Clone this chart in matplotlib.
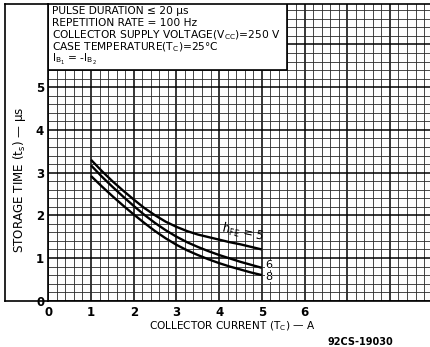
import matplotlib
matplotlib.use("Agg")
import matplotlib.pyplot as plt
from matplotlib.lines import Line2D
from matplotlib.patches import Rectangle
import numpy as np

# ---- data ----
collector_current = [1.0, 1.25, 1.5, 1.75, 2.0, 2.25, 2.5, 2.75, 3.0,
                     3.25, 3.5, 3.75, 4.0, 4.25, 4.5, 4.75, 5.0]
ts_hfe5 = [3.30, 3.04, 2.80, 2.58, 2.37, 2.17, 2.00, 1.85, 1.73,
           1.63, 1.55, 1.49, 1.43, 1.37, 1.32, 1.26, 1.20]
ts_hfe6 = [3.17, 2.91, 2.67, 2.44, 2.22, 2.01, 1.82, 1.65, 1.50,
           1.37, 1.26, 1.16, 1.07, 0.99, 0.91, 0.84, 0.77]
ts_hfe8 = [2.92, 2.68, 2.45, 2.23, 2.02, 1.82, 1.63, 1.46, 1.31,
           1.18, 1.07, 0.97, 0.88, 0.80, 0.73, 0.66, 0.60]
x_tick_labels = ["0", "1", "2", "3", "4", "5", "6"]
y_tick_labels = ["0", "1", "2", "3", "4", "5"]
info_lines = [
    "PULSE DURATION \u2264 20 \u00b5s",
    "REPETITION RATE = 100 Hz",
    r"COLLECTOR SUPPLY VOLTAGE(V$_\mathregular{CC}$)=250 V",
    r"CASE TEMPERATURE(T$_\mathregular{C}$)=25$\degree$C",
    r"$\mathregular{I_{B_1}}$ = -$\mathregular{I_{B_2}}$",
]

W, H = 430, 347
fig = plt.figure(figsize=(W / 100, H / 100), dpi=100)

# pixel geometry
x0_px, x_right_px = 48.3, 430.0
y0_px, y_top_px = 300.7, 4.0
unit = 42.7
ax = fig.add_axes([x0_px / W, 1 - y0_px / H, (x_right_px - x0_px) / W, (y0_px - y_top_px) / H])
ax.set_xlim(0, (x_right_px - x0_px) / unit)
ax.set_ylim(0, (y0_px - y_top_px) / unit)

# grid
ax.set_xticks(np.arange(0, 9, 1))
ax.set_xticklabels(x_tick_labels + [""] * (9 - len(x_tick_labels)))
ax.set_yticks(np.arange(0, 7, 1))
ax.set_yticklabels(y_tick_labels + [""] * (7 - len(y_tick_labels)))
ax.set_xticks(np.arange(0, 9, 0.2), minor=True)
ax.set_yticks(np.arange(0, 7, 0.2), minor=True)
ax.grid(which="major", color="black", linewidth=1.1)
ax.grid(which="minor", color="#2a2a2a", linewidth=0.6)
ax.tick_params(which="both", length=0)
ax.tick_params(axis="x", pad=4, labelsize=8.5)
ax.tick_params(axis="y", pad=3, labelsize=8.5)
for lab in ax.get_xticklabels() + ax.get_yticklabels():
    lab.set_fontweight("semibold")
ax.set_axisbelow(True)
for s in ["left", "bottom", "top"]:
    ax.spines[s].set_linewidth(1.2)
ax.spines["right"].set_visible(False)

# info box covering grid
ax.add_patch(Rectangle((0, 5.4), 5.6, 3.0, facecolor="white", edgecolor="black",
                       linewidth=1.2, zorder=2))
line_y = [11.0, 23.0, 35.0, 47.0, 59.5]
for t, yp in zip(info_lines, line_y):
    fig.text(51.5 / W, 1 - yp / H, t, fontsize=7.7, va="center", ha="left")

# curves
for ys in (ts_hfe5, ts_hfe6, ts_hfe8):
    ax.plot(collector_current, ys, color="black", linewidth=1.7, zorder=3,
            solid_capstyle="butt", solid_joinstyle="round")

ax.text(4.56, 1.6, r"$\mathregular{h_{FE}}$ = 5", rotation=-12, fontsize=8.3,
        ha="center", va="center", zorder=4)
ax.text(5.08, 0.83, "6", fontsize=8, ha="left", va="center", zorder=4,
        bbox=dict(facecolor="white", edgecolor="none", pad=0.05))
ax.text(5.08, 0.55, "8", fontsize=8, ha="left", va="center", zorder=4,
        bbox=dict(facecolor="white", edgecolor="none", pad=0.05))

# outer frame on the left
fig.add_artist(Line2D([5 / W, 5 / W], [1 - y0_px / H, 1 - y_top_px / H], color="black", linewidth=1.2))
fig.add_artist(Line2D([5 / W, x0_px / W], [1 - y0_px / H, 1 - y0_px / H], color="black", linewidth=1.2))
fig.add_artist(Line2D([5 / W, x0_px / W], [1 - y_top_px / H, 1 - y_top_px / H], color="black", linewidth=1.2))

# axis titles
fig.text(20 / W, 1 - 180 / H, "STORAGE TIME (t$_\\mathregular{s}$) \u2014 \u00b5s",
         rotation=90, fontsize=8.6, ha="center", va="center")
fig.text(232 / W, 1 - 326 / H, "COLLECTOR CURRENT (T$_\\mathregular{C}$) \u2014 A",
         fontsize=7.6, ha="center", va="center")
fig.text(360 / W, 1 - 342 / H, "92CS-19030", fontsize=7, fontweight="bold",
         ha="center", va="center")

fig.savefig("out.png", dpi=100)
